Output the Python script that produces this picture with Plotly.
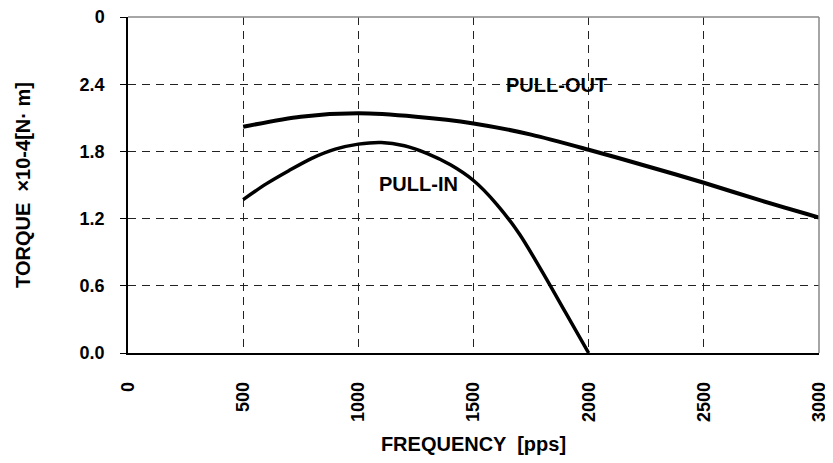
import plotly.graph_objects as go

# Data
pull_out_x = [500, 750, 1000, 1250, 1500, 1750, 2000, 2250, 2500, 2750, 3000]
pull_out_y = [2.02, 2.11, 2.14, 2.11, 2.05, 1.95, 1.815, 1.67, 1.52, 1.36, 1.21]

pull_in_x = [500, 600, 700, 800, 900, 1000, 1100, 1200, 1300, 1400, 1500, 1600, 1700, 1800, 1900, 2000]
pull_in_y = [1.37, 1.51, 1.63, 1.74, 1.82, 1.865, 1.88, 1.85, 1.78, 1.68, 1.54, 1.33, 1.06, 0.72, 0.36, 0.0]

x_tickvals = [0, 500, 1000, 1500, 2000, 2500, 3000]
y_tickvals = [0.0, 0.6, 1.2, 1.8, 2.4, 3.0]
y_ticktext = ["0.0", "0.6", "1.2", "1.8", "2.4", "0"]

font_family = "Liberation Sans, Arial, sans-serif"

fig = go.Figure()
fig.add_trace(go.Scatter(x=pull_out_x, y=pull_out_y, mode="lines",
                         line=dict(color="black", width=4, shape="spline", smoothing=0.8),
                         showlegend=False, hoverinfo="skip"))
fig.add_trace(go.Scatter(x=pull_in_x, y=pull_in_y, mode="lines",
                         line=dict(color="black", width=3.5, shape="spline", smoothing=0.8),
                         showlegend=False, hoverinfo="skip"))

fig.add_annotation(x=1861, y=2.39, text="<b>PULL-OUT</b>", showarrow=False,
                   font=dict(family=font_family, size=20, color="black"))
fig.add_annotation(x=1260, y=1.51, text="<b>PULL-IN</b>", showarrow=False,
                   font=dict(family=font_family, size=20, color="black"))

# grey top/right border
fig.add_shape(type="line", xref="paper", yref="paper", x0=0, x1=1, y0=1, y1=1,
              line=dict(color="#888888", width=1.5))
fig.add_shape(type="line", xref="paper", yref="paper", x0=1, x1=1, y0=0, y1=1,
              line=dict(color="#888888", width=1.5))

fig.update_layout(
    width=825, height=447,
    margin=dict(l=120, r=14, t=9, b=102),
    plot_bgcolor="white", paper_bgcolor="white",
    font=dict(family=font_family, color="black", size=18),
    xaxis=dict(range=[0, 3000], tickvals=x_tickvals,
               ticktext=[f"<b>{v}</b>" for v in x_tickvals],
               tickangle=-90, showgrid=True, gridcolor="#222222", griddash="8px,6px",
               gridwidth=1, zeroline=False, showline=True, linecolor="black",
               linewidth=1.5, ticks="", ticklabelstandoff=20, ticklabeloverflow="allow",
               automargin=False,
               title=dict(text="<b>FREQUENCY  [pps]</b>", font=dict(size=20), standoff=18)),
    yaxis=dict(range=[0, 3.0], tickvals=y_tickvals,
               ticktext=[f"<b>{t}</b>" for t in y_ticktext],
               showgrid=True, gridcolor="#222222", griddash="8px,6px", gridwidth=1,
               zeroline=False, showline=True, linecolor="black", linewidth=1.5,
               ticks="outside", ticklen=6, tickcolor="black", ticklabelstandoff=12,
               ticklabeloverflow="allow", automargin=False,
               title=dict(text="<b>TORQUE  ×10-4[N· m]</b>", font=dict(size=20), standoff=44)),
)

fig.write_html("out.html")
